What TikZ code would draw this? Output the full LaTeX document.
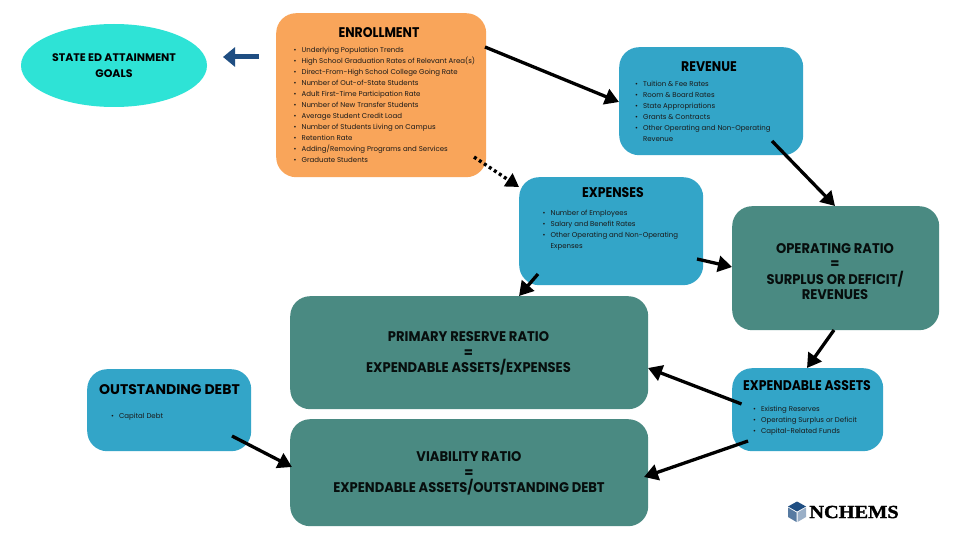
\documentclass[tikz,border=0pt]{standalone}
\usepackage{fontspec}
\setmainfont{Poppins}
\newfontfamily\titlefont[FakeStretch=0.89]{Poppins}
\newfontfamily\bigfont[FakeStretch=0.935]{Poppins}
\newfontfamily\logofont[FakeStretch=1.1,FakeBold=1.5]{Liberation Serif}
\usetikzlibrary{arrows.meta,shapes.geometric}
\definecolor{orangebox}{HTML}{F9A55A}
\definecolor{bluebox}{HTML}{33A5C8}
\definecolor{greenbox}{HTML}{4A8A82}
\definecolor{aquaoval}{HTML}{2EE3D6}
\definecolor{navyarrow}{HTML}{1F4E82}
\tikzset{
 x=1pt,y=-1pt,
 card/.style={draw=none,rounded corners=20pt,anchor=north west,inner sep=0pt},
 orangecard/.style={card,fill=orangebox},
 bluecard/.style={card,fill=bluebox},
 greencard/.style={card,fill=greenbox},
 boxtitle/.style={font=\titlefont\fontsize{14}{15}\selectfont\bfseries,align=center,inner sep=0pt,text=black},
 widetitle/.style={font=\fontsize{14}{15}\selectfont\bfseries,align=center,inner sep=0pt,text=black},
 bigtitle/.style={font=\bigfont\fontsize{14}{15.5}\selectfont\bfseries,align=center,inner sep=0pt,text=black!90!greenbox},
 itemtext/.style={font=\fontsize{7}{11}\selectfont,align=left,anchor=north west,inner sep=0pt,text=black!90},
 flow/.style={line width=3.3pt,-{Triangle[length=14pt,width=16pt]}},
 flowdot/.style={line width=3.4pt,dash pattern=on 3pt off 3pt,-{Triangle[length=13pt,width=15pt,sep=0pt]}},
 navyflow/.style={line width=5pt,navyarrow,-{Triangle[length=12pt,width=19pt]}},
}
\newcommand{\itemlist}[1]{\begin{tabular}{@{}l@{\hspace{5pt}}l@{}}#1\end{tabular}}
\newcommand{\bul}{\textbullet}
\begin{document}
\begin{tikzpicture}
\useasboundingbox (0,0) rectangle (960,540);
\fill[white] (0,0) rectangle (960,540);
\node[ellipse,fill=aquaoval,minimum width=186pt,minimum height=83pt,inner sep=0pt,font=\fontsize{11}{15.6}\selectfont\bfseries,align=center] (goals) at (114,65.5) {STATE ED ATTAINMENT\\GOALS};
\node[orangecard,minimum width=210pt,minimum height=164pt] (enr) at (276,13) {};
\node[bluecard,minimum width=184pt,minimum height=108pt] (rev) at (619,47) {};
\node[bluecard,minimum width=184pt,minimum height=108pt] (exp) at (519,177) {};
\node[greencard,minimum width=207pt,minimum height=124pt] (opr) at (732,206) {};
\node[greencard,minimum width=358pt,minimum height=113pt] (prr) at (290,296) {};
\node[greencard,minimum width=358pt,minimum height=107pt] (via) at (290,419) {};
\node[bluecard,minimum width=151pt,minimum height=83pt] (ass) at (732,368) {};
\node[bluecard,minimum width=164pt,minimum height=82pt] (debt) at (87,369) {};
\node[boxtitle] (t1) at (379,32.5) {ENROLLMENT};
\node[boxtitle] (t2) at (709,66.5) {REVENUE};
\node[boxtitle] (t3) at (613,192.5) {EXPENSES};
\node[boxtitle] (t4) at (807,385.5) {EXPENDABLE ASSETS};
\node[widetitle] (t5) at (169.5,390) {OUTSTANDING DEBT};
\node[bigtitle] (t6) at (835,271.5) {OPERATING RATIO\\=\\SURPLUS OR DEFICIT/\\REVENUES};
\node[bigtitle] (t7) at (468.5,353.5) {PRIMARY RESERVE RATIO\\=\\EXPENDABLE ASSETS/EXPENSES};
\node[bigtitle] (t8) at (469,473.5) {VIABILITY RATIO\\=\\EXPENDABLE ASSETS/OUTSTANDING DEBT};
\node[itemtext] (l1) at (293.5,45) {\itemlist{\bul&Underlying Population Trends\\\bul&High School Graduation Rates of Relevant Area(s)\\\bul&Direct-From-High School College Going Rate\\\bul&Number of Out-of-State Students\\\bul&Adult First-Time Participation Rate\\\bul&Number of New Transfer Students\\\bul&Average Student Credit Load\\\bul&Number of Students Living on Campus\\\bul&Retention Rate\\\bul&Adding/Removing Programs and Services\\\bul&Graduate Students}};
\node[itemtext] (l2) at (635,79) {\itemlist{\bul&Tuition \& Fee Rates\\\bul&Room \& Board Rates\\\bul&State Appropriations\\\bul&Grants \& Contracts\\\bul&Other Operating and Non-Operating\\&Revenue}};
\node[itemtext] (l3) at (542.5,207.5) {\itemlist{\bul&Number of Employees\\\bul&Salary and Benefit Rates\\\bul&Other Operating and Non-Operating\\&Expenses}};
\node[itemtext] (l4) at (753,403.5) {\itemlist{\bul&Existing Reserves\\\bul&Operating Surplus or Deficit\\\bul&Capital-Related Funds}};
\node[itemtext] (l5) at (111,411) {\itemlist{\bul&Capital Debt}};
\coordinate (a1) at (485,47); \coordinate (a2) at (619,102);
\coordinate (b1) at (474,157); \coordinate (b2) at (519,187);
\coordinate (c1) at (772,141); \coordinate (c2) at (835,206);
\coordinate (d1) at (697,259); \coordinate (d2) at (732,267);
\coordinate (e1) at (538,274); \coordinate (e2) at (519,296);
\coordinate (f1) at (834,330); \coordinate (f2) at (807,368);
\coordinate (g1) at (741.5,404); \coordinate (g2) at (648,368);
\coordinate (h1) at (748,441); \coordinate (h2) at (644,477);
\coordinate (i1) at (232,436); \coordinate (i2) at (292,467);
\coordinate (j1) at (259,57); \coordinate (j2) at (223,57);
\draw[flow] (a1) -- (a2);
\draw[flowdot] (b1) -- (b2);
\draw[flow] (c1) -- (c2);
\draw[flow] (d1) -- (d2);
\draw[flow] (e1) -- (e2);
\draw[flow] (f1) -- (f2);
\draw[flow] (g1) -- (g2);
\draw[flow] (h1) -- (h2);
\draw[flow] (i1) -- (i2);
\draw[navyflow] (j1) -- (j2);
% NCHEMS logo
\fill[navyarrow] (797,501.5) -- (806,506.5) -- (797,511.5) -- (788,506.5) -- cycle;
\fill[navyarrow!75!white] (788,507.5) -- (796.5,512.5) -- (796.5,522) -- (788,517) -- cycle;
\fill[navyarrow!45!white] (806,507.5) -- (797.5,512.5) -- (797.5,522) -- (806,517) -- cycle;
\node[font=\logofont\fontsize{18.5}{18.5}\selectfont\bfseries,inner sep=0pt] (logo) at (854,512) {NCHEMS};
\end{tikzpicture}
\end{document}
